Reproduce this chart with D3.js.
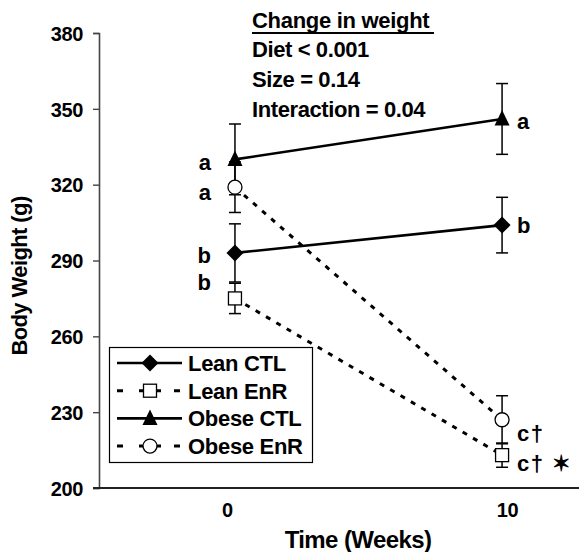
<!DOCTYPE html>
<html>
<head>
<meta charset="utf-8">
<script src="https://cdn.jsdelivr.net/npm/d3@7"></script>
<style>
  body { margin: 0; background: #fff; }
  svg text { font-family: "Liberation Sans", Arial, sans-serif; font-weight: bold; fill: #000; }
</style>
</head>
<body>
<div id="chart"></div>
<script>
// data
const weeks = [0, 10]
const groups = ['Lean CTL', 'Lean EnR', 'Obese CTL', 'Obese EnR']
const leanCTL = [293, 304]
const leanEnR = [275, 213]
const obeseCTL = [330, 346]
const obeseEnR = [319, 227]
const leanCTLErr = [11.5, 11]
const leanEnRErr = [6, 4.8]
const obeseCTLErr = [14, 14]
const obeseEnRErr = [10, 9.5]
const lettersWk0 = ['b', 'b', 'a', 'a']
const lettersWk10 = ['b', 'c\u2020  \u2736', 'a', 'c\u2020']
const yTicks = [200, 230, 260, 290, 320, 350, 380]
const stats = ['Diet < 0.001', 'Size = 0.14', 'Interaction = 0.04']

const width = 579, height = 552

const series = [
  {name: groups[0], values: leanCTL, err: leanCTLErr, letters: [lettersWk0[0], lettersWk10[0]], marker: 'diamond', dashed: false},
  {name: groups[1], values: leanEnR, err: leanEnRErr, letters: [lettersWk0[1], lettersWk10[1]], marker: 'square', dashed: true},
  {name: groups[2], values: obeseCTL, err: obeseCTLErr, letters: [lettersWk0[2], lettersWk10[2]], marker: 'triangle', dashed: false},
  {name: groups[3], values: obeseEnR, err: obeseEnRErr, letters: [lettersWk0[3], lettersWk10[3]], marker: 'circle', dashed: true}
]

const x = d3.scaleLinear().domain([-5.09, 12.88]).range([99, 579])
const y = d3.scaleLinear().domain([200, 380]).range([488, 33])

const svg = d3.select('#chart').append('svg')
  .attr('width', width)
  .attr('height', height)

// axes
const yAxis = svg.append('g')
  .attr('transform', `translate(${x.range()[0]},0)`)
  .call(d3.axisLeft(y).tickValues(yTicks).tickSize(6).tickPadding(10))
yAxis.select('.domain').attr('stroke', '#444').attr('stroke-width', 1.6)
yAxis.selectAll('.tick line').attr('stroke', '#444').attr('stroke-width', 1.4)
yAxis.selectAll('.tick text')
  .style('font-size', '20px')
  .style('letter-spacing', '-0.4px')
  .attr('dy', '0.36em')

const xAxis = svg.append('g')
  .attr('transform', `translate(0,${y(200)})`)
  .call(d3.axisBottom(x).tickValues(weeks).tickSize(0).tickPadding(15))
xAxis.select('.domain').attr('stroke', '#222').attr('stroke-width', 1.8)
  .attr('d', `M${x.range()[0] - 6},0H${x.range()[1]}`)
xAxis.selectAll('.tick text')
  .style('font-size', '20px')
  .style('letter-spacing', '-0.4px')
  .attr('dx', d => d === 0 ? -8 : 5)

// axis titles
svg.append('text')
  .attr('transform', `translate(27,276) rotate(-90)`)
  .attr('text-anchor', 'middle')
  .style('font-size', '22px')
  .style('letter-spacing', '-0.6px')
  .text('Body Weight  (g)')

svg.append('text')
  .attr('x', 358)
  .attr('y', 548)
  .attr('text-anchor', 'middle')
  .style('font-size', '24px')
  .style('letter-spacing', '-0.6px')
  .text('Time (Weeks)')

// marker shapes
function drawMarker(g, type) {
  if (type === 'diamond') {
    g.append('path').attr('d', 'M0,-8.5L8.5,0L0,8.5L-8.5,0Z').attr('fill', '#000')
  } else if (type === 'triangle') {
    g.append('path').attr('d', 'M0,-9L7.5,6.5L-7.5,6.5Z').attr('fill', '#000')
  } else if (type === 'square') {
    g.append('rect').attr('x', -6.5).attr('y', -6.5).attr('width', 13).attr('height', 13)
      .attr('fill', '#fff').attr('stroke', '#000').attr('stroke-width', 1.3)
  } else {
    g.append('circle').attr('r', 7).attr('fill', '#fff').attr('stroke', '#000').attr('stroke-width', 1.3)
  }
}

const line = d3.line().x((d, i) => x(weeks[i])).y(d => y(d))

// connecting lines
svg.append('g').selectAll('path')
  .data(series)
  .enter().append('path')
  .attr('d', d => line(d.values))
  .attr('fill', 'none')
  .attr('stroke', '#000')
  .attr('stroke-width', d => d.dashed ? 3 : 2.6)
  .attr('stroke-dasharray', d => d.dashed ? '5,7' : null)

// error bars
const errG = svg.append('g')
series.forEach(s => {
  s.values.forEach((v, i) => {
    const cx = x(weeks[i])
    errG.append('line')
      .attr('x1', cx).attr('x2', cx)
      .attr('y1', y(v + s.err[i])).attr('y2', y(v - s.err[i]))
      .attr('stroke', '#000').attr('stroke-width', 1.5)
    ;[v + s.err[i], v - s.err[i]].forEach(e => {
      errG.append('line')
        .attr('x1', cx - 6).attr('x2', cx + 6)
        .attr('y1', y(e)).attr('y2', y(e))
        .attr('stroke', '#000').attr('stroke-width', 1.5)
    })
  })
})

// markers
series.forEach(s => {
  s.values.forEach((v, i) => {
    const g = svg.append('g').attr('transform', `translate(${x(weeks[i])},${y(v)})`)
    drawMarker(g, s.marker)
  })
})

// significance letters (small nudges so they do not collide)
const nudge0 = {'Lean CTL': 2, 'Lean EnR': -16, 'Obese CTL': 3, 'Obese EnR': 5}
const nudge10 = {'Lean CTL': 0, 'Lean EnR': 8, 'Obese CTL': 2, 'Obese EnR': 13}
series.forEach(s => {
  svg.append('text')
    .attr('x', x(weeks[0]) - 24)
    .attr('y', y(s.values[0]) + nudge0[s.name])
    .attr('dy', '0.36em')
    .attr('text-anchor', 'end')
    .style('font-size', '22px')
    .text(s.letters[0])
  svg.append('text')
    .attr('x', x(weeks[1]) + 15)
    .attr('y', y(s.values[1]) + nudge10[s.name])
    .attr('dy', '0.36em')
    .style('font-size', '22px')
    .style('letter-spacing', '1.5px')
    .text(s.letters[1])
})

// statistics note
const note = svg.append('g').attr('transform', 'translate(252,0)')
note.append('text')
  .attr('y', 28)
  .style('font-size', '22px')
  .style('letter-spacing', '-0.3px')
  .text('Change in weight')
note.append('line')
  .attr('x1', 0).attr('x2', 182)
  .attr('y1', 33).attr('y2', 33)
  .attr('stroke', '#000').attr('stroke-width', 2)
note.selectAll('.stat')
  .data(stats)
  .enter().append('text')
  .attr('class', 'stat')
  .attr('y', (d, i) => 57 + i * 30)
  .style('font-size', '22px')
  .style('letter-spacing', '-0.4px')
  .text(d => d)

// legend
const legend = svg.append('g')
legend.append('rect')
  .attr('x', 109.5).attr('y', 347.5)
  .attr('width', 203).attr('height', 115)
  .attr('fill', '#fff').attr('stroke', '#000').attr('stroke-width', 1.2)
series.forEach((s, i) => {
  const row = legend.append('g').attr('transform', `translate(117,${363 + i * 27.7})`)
  row.append('line')
    .attr('x1', 0).attr('x2', 65)
    .attr('stroke', '#000')
    .attr('stroke-width', s.dashed ? 3 : 2.6)
    .attr('stroke-dasharray', s.dashed ? '6,16,22,13,6,100' : null)
  drawMarker(row.append('g').attr('transform', 'translate(33,0)'), s.marker)
  row.append('text')
    .attr('x', 71)
    .attr('dy', '0.36em')
    .style('font-size', '22px')
    .style('letter-spacing', '-0.3px')
    .text(s.name)
})
</script>
</body>
</html>
